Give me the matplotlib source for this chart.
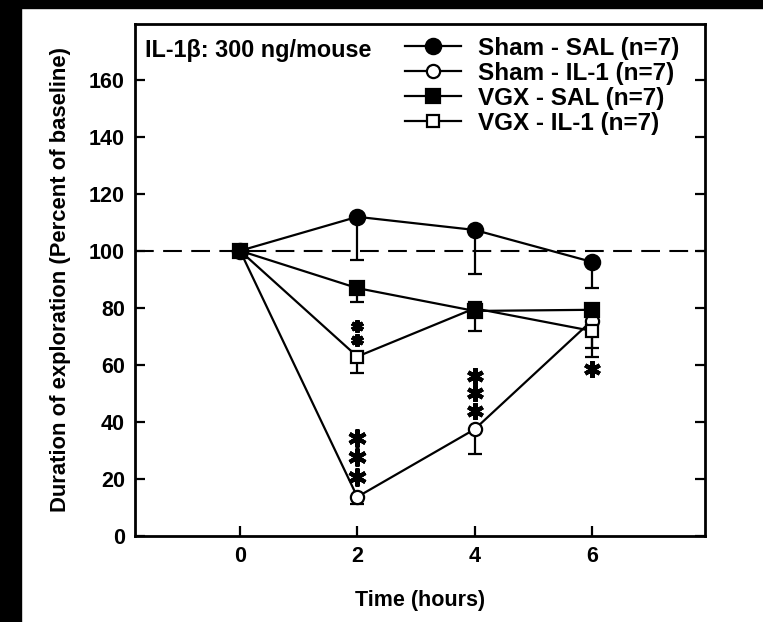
import matplotlib
matplotlib.use("Agg")
import matplotlib.pyplot as plt
from matplotlib.patches import Rectangle
from matplotlib.lines import Line2D
import numpy as np

plt.rcParams['font.family'] = ['Liberation Sans', 'DejaVu Sans']
plt.rcParams['font.weight'] = 'bold'

# ---- data ----
time = [0, 2, 4, 6]
sham_sal = [100, 111.9, 107.3, 96.1]
sham_sal_err = [0, 15.1, 15.5, 9.2]
sham_il1 = [100, 13.7, 37.4, 75.5]
sham_il1_err = [0, 2.6, 8.7, 9.7]
vgx_sal = [100, 86.9, 78.9, 79.3]
vgx_sal_err = [0, 4.7, 7.2, 2.0]
vgx_il1 = [100, 62.9, 79.8, 71.9]
vgx_il1_err = [0, 5.8, 1.0, 9.1]

labels = ["Sham - SAL (n=7)", "Sham - IL-1 (n=7)", "VGX - SAL (n=7)", "VGX - IL-1 (n=7)"]

# significance asterisks (x, y, size)
star_x = [2, 2, 2, 2, 2, 4, 4, 4, 6]
star_y = [73.7, 68.7, 34.5, 27.7, 20.8, 56.1, 50.3, 43.9, 58.5]
star_s = [9, 9, 13, 13, 13, 12, 12, 12, 12]

baseline = 100
yticks = [0, 20, 40, 60, 80, 100, 120, 140, 160]
xticks = [0, 2, 4, 6]

fig = plt.figure(figsize=(7.63, 6.22), dpi=100)
ax = fig.add_axes([0.1763, 0.1383, 0.7477, 0.8231])

# black scan borders
fig.patches.append(Rectangle((0, 0), 21/763, 1, transform=fig.transFigure, color='black', zorder=0))
fig.patches.append(Rectangle((0, 1 - 8/622), 1, 8/622, transform=fig.transFigure, color='black', zorder=0))

ax.axhline(baseline, color='black', lw=1.5, ls=(0, (9, 4.5)), zorder=1)

series = [
    (sham_sal, sham_sal_err, 'o', 'black', 11),
    (sham_il1, sham_il1_err, 'o', 'white', 9.5),
    (vgx_sal, vgx_sal_err, 's', 'black', 10),
    (vgx_il1, vgx_il1_err, 's', 'white', 8.5),
]
zorders = {1: 3, 3: 4, 2: 5, 0: 6}
for idx in [1, 3, 2, 0]:
    vals, err, m, fc, ms = series[idx]
    z = zorders[idx]
    ax.errorbar(time, vals, yerr=[err, np.zeros(len(err))], fmt='none',
                ecolor='black', elinewidth=1.6, capsize=5, capthick=1.6, zorder=z)
    ax.plot(time, vals, color='black', lw=1.6, marker=m, markersize=ms,
            markerfacecolor=fc, markeredgecolor='black', markeredgewidth=1.6, zorder=z)

handles = []
for idx in range(4):
    vals, err, m, fc, ms = series[idx]
    handles.append(Line2D([], [], color='black', lw=1.6, marker=m, markersize=ms,
                          markerfacecolor=fc, markeredgecolor='black', markeredgewidth=1.6))

for sx, sy, ss in zip(star_x, star_y, star_s):
    ax.plot(sx, sy, marker=(6, 2, 0), markersize=ss, color='black', mew=3.0, zorder=8)

ax.set_xlim(-1.8, 7.93)
ax.set_ylim(0, 179.5)
ax.set_xticks(xticks)
ax.set_yticks(yticks)
ax.tick_params(axis='both', direction='in', length=7, width=1.6, labelsize=15.5)
ax.tick_params(axis='y', right=True, pad=7)
ax.tick_params(axis='x', pad=7)
for sp in ax.spines.values():
    sp.set_linewidth(2)

ax.set_xlabel("Time (hours)", fontsize=15.5, fontweight='bold')
ax.set_ylabel("Duration of exploration (Percent of baseline)", fontsize=15.8, fontweight='bold')
ax.xaxis.set_label_coords(0.5, -0.105)
ax.yaxis.set_label_coords(-0.112, 0.5)

ax.text(0.018, 0.949, "IL-1β: 300 ng/mouse", transform=ax.transAxes, fontsize=16.8,
        fontweight='bold', va='center', ha='left')

ax.legend(handles, labels, loc='upper left', bbox_to_anchor=(0.474, 0.975),
          frameon=False, handlelength=2.3, handletextpad=0.7,
          labelspacing=0.08, borderpad=0, borderaxespad=0,
          prop={'weight': 'bold', 'size': 17.5})

fig.savefig("out.png", dpi=100)
